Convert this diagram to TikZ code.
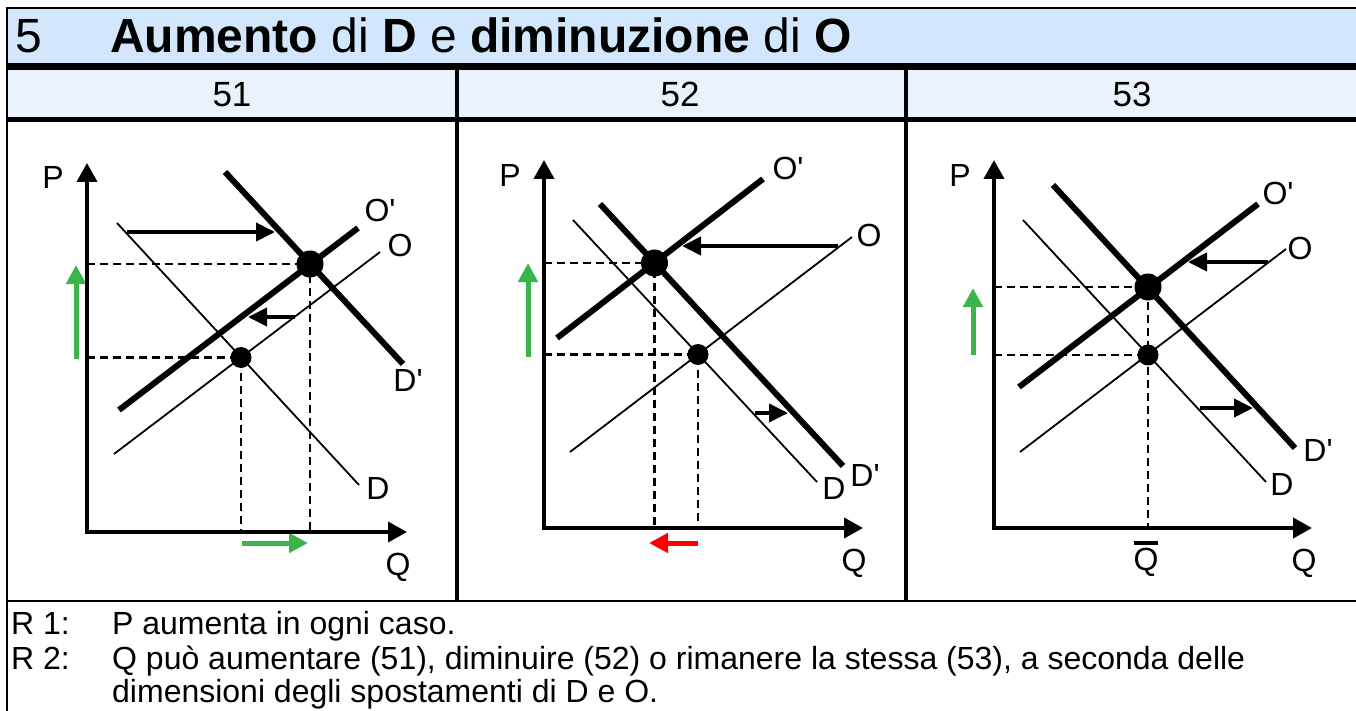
\documentclass[tikz,border=0pt]{standalone}
\usepackage{fontspec}
\setmainfont{Liberation Sans}
\usetikzlibrary{arrows.meta}
\definecolor{titlebg}{RGB}{210,231,252}
\definecolor{headbg}{RGB}{234,243,253}
\definecolor{upgreen}{RGB}{57,181,74}
\newcommand{\prm}{\textquotesingle}

\begin{document}
\begin{tikzpicture}[x=1pt, y=-1pt,
  lbl/.style={font=\fontsize{32}{38}\selectfont, inner sep=0pt},
  headtxt/.style={font=\fontsize{35}{40}\selectfont, inner sep=0pt, anchor=base},
  titletxt/.style={font=\fontsize{48}{56}\selectfont, inner sep=0pt, anchor=base west},
  rowtxt/.style={font=\fontsize{32}{38}\selectfont, inner sep=0pt, anchor=base west},
  axis/.style={line width=4pt, {Triangle[length=19pt,width=20pt]}-{Triangle[length=19pt,width=20pt]}},
  curve/.style={line width=1.8pt},
  curvenew/.style={line width=6pt},
  guide/.style={line width=2.4pt, dash pattern=on 8pt off 5pt},
  shiftarr/.style={line width=4pt, -{Triangle[length=19pt,width=18pt]}},
  movearr/.style={line width=5pt, -{Triangle[length=19pt,width=19pt]}},
  bigdot/.style={circle, fill, inner sep=0pt, minimum size=27pt},
  smalldot/.style={circle, fill, inner sep=0pt, minimum size=21pt}
]
\useasboundingbox (0,0) rectangle (1356,711);

\fill[titlebg] (7,8) rectangle (1356,63);
\fill[headbg]  (7,70) rectangle (1356,117);
\draw[line width=2pt]   (1356,8) -- (7,8) -- (7,711);
\draw[line width=7pt]   (7,66.5) -- (1356,66.5);
\draw[line width=5pt]   (7,119.5) -- (1356,119.5);
\draw[line width=4.5pt] (457,66) -- (457,601);
\draw[line width=4.5pt] (906,66) -- (906,601);
\draw[line width=2.5pt] (7,601) -- (1356,601);

\node[titletxt] (num)   at (15,53)  {5};
\node[titletxt] (title) at (110,53) {\textbf{Aumento} di \textbf{D} e \textbf{diminuzione} di \textbf{O}};
\node[headtxt] (h51) at (232,107)  {51};
\node[headtxt] (h52) at (680,107)  {52};
\node[headtxt] (h53) at (1132,107) {53};

\node[rowtxt] (r1)  at (11,634)  {R 1:};
\node[rowtxt] (r1t) at (112,634) {P aumenta in ogni caso.};
\node[rowtxt] (r2)  at (11,669)  {R 2:};
\node[rowtxt] (r2t) at (112,669) {Q può aumentare (51), diminuire (52) o rimanere la stessa (53), a seconda delle};
\node[rowtxt] (r3t) at (112,702) {dimensioni degli spostamenti di D e O.};

% 51
\coordinate (o1) at (87,532);
\coordinate (e1) at (241,357.5);
\coordinate (f1) at (310,264);
\draw[guide] (e1 -| o1) -- (e1) -- (e1 |- o1);
\draw[guide] (f1 -| o1) -- (f1) -- (f1 |- o1);
\draw[curve] (117,223) -- (359,485);
\draw[curve] (114,454) -- (380,252);
\draw[curvenew] (119,410) -- (358,228);
\draw[curvenew] (225,172) -- (403,364);
\node[smalldot] (e1dot) at (e1) {};
\node[bigdot]   (f1dot) at (f1) {};
\draw[shiftarr] (127,232) -- (275,232);
\draw[shiftarr] (295,317) -- (248,317);
\draw[movearr, upgreen] (76,359) -- (76,265);
\draw[movearr, upgreen] (242,543) -- (308,543);
\draw[axis] (87,163) -- (o1) -- (407,532);
\node[lbl] (p1)  at (53,177)  {P};
\node[lbl] (q1)  at (398,567) {Q};
\node[lbl] (s1n) at (380,210) {O\prm};
\node[lbl] (s1)  at (400,245) {O};
\node[lbl] (d1n) at (408,380) {D\prm};
\node[lbl] (d1)  at (378,488) {D};

% 52
\coordinate (o2) at (544,528);
\coordinate (e2) at (698,354.5);
\coordinate (f2) at (654.5,263);
\draw[guide] (e2 -| o2) -- (e2) -- (e2 |- o2);
\draw[guide] (f2 -| o2) -- (f2) -- (f2 |- o2);
\draw[curve] (573,220) -- (817,482);
\draw[curve] (570,452) -- (852,237);
\draw[curvenew] (557,338) -- (763,179);
\draw[curvenew] (600,204) -- (843,466);
\node[smalldot] (e2dot) at (e2) {};
\node[bigdot]   (f2dot) at (f2) {};
\draw[shiftarr] (838,246) -- (682,246);
\draw[shiftarr] (755,413) -- (788,413);
\draw[movearr, upgreen] (528,357) -- (528,263);
\draw[movearr, red] (698,543) -- (649,543);
\draw[axis] (544,160) -- (o2) -- (863,528);
\node[lbl] (p2)  at (510,175) {P};
\node[lbl] (q2)  at (854,563) {Q};
\node[lbl] (s2n) at (788,168) {O\prm};
\node[lbl] (s2)  at (869,235) {O};
\node[lbl] (d2n) at (865,475) {D\prm};
\node[lbl] (d2)  at (834,488) {D};

% 53
\coordinate (o3) at (994,528);
\coordinate (e3) at (1148,355);
\coordinate (f3) at (1148,287);
\draw[guide] (e3 -| o3) -- (e3);
\draw[guide] (f3 -| o3) -- (f3) -- (f3 |- o3);
\draw[curve] (1023,220) -- (1266,482);
\draw[curve] (1020,452) -- (1286,249);
\draw[curvenew] (1019,387) -- (1258,204);
\draw[curvenew] (1053,185) -- (1295,448);
\node[smalldot] (e3dot) at (e3) {};
\node[bigdot]   (f3dot) at (f3) {};
\draw[shiftarr] (1268,262) -- (1188,262);
\draw[shiftarr] (1200,408) -- (1253,408);
\draw[movearr, upgreen] (973,355) -- (973,288);
\draw[axis] (994,160) -- (o3) -- (1312,528);
\node[lbl] (p3)  at (960,175)  {P};
\node[lbl] (q3)  at (1304,563) {Q};
\node[lbl, anchor=base] (qbar) at (1146,570) {\setbox0\hbox{Q}\vbox{\hrule height 4pt width\wd0\kern2.5pt\box0}};
\node[lbl] (s3n) at (1278,193) {O\prm};
\node[lbl] (s3)  at (1300,248) {O};
\node[lbl] (d3n) at (1318,450) {D\prm};
\node[lbl] (d3)  at (1282,484) {D};
\end{tikzpicture}
\end{document}
